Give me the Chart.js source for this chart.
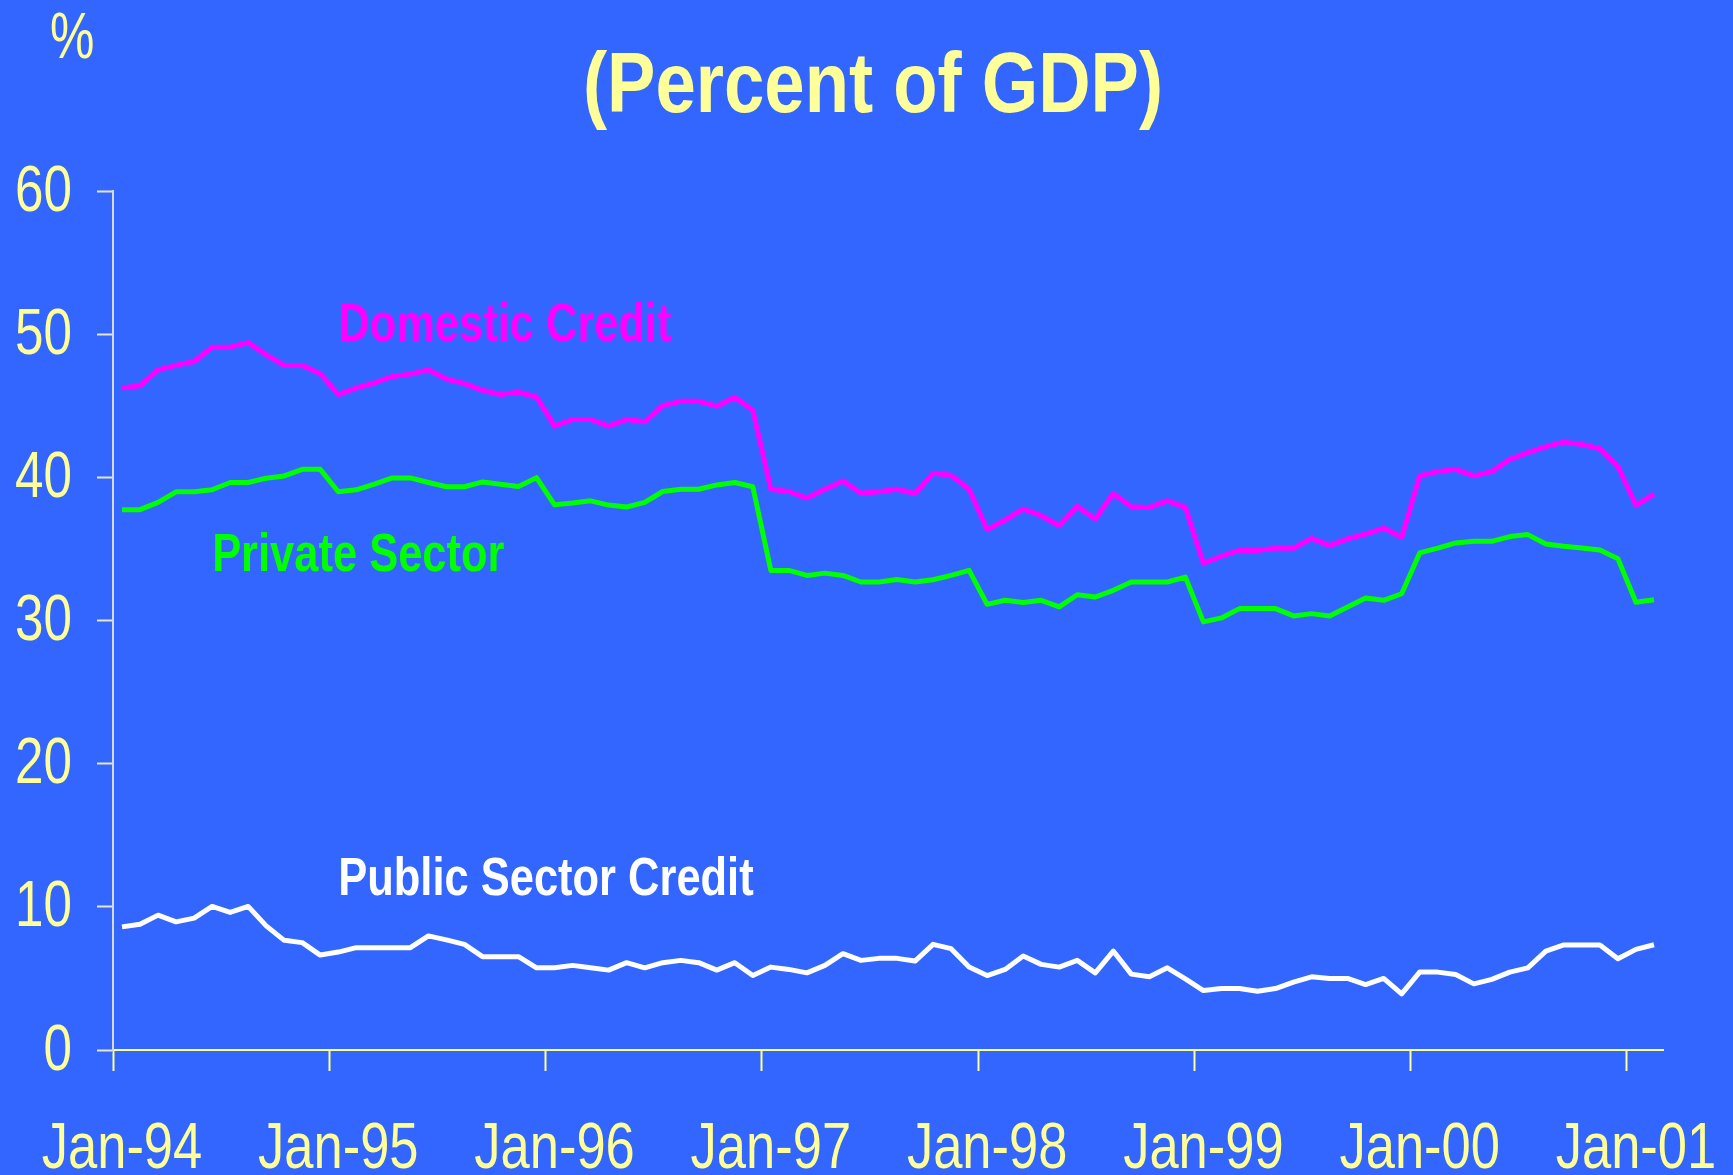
<!DOCTYPE html>
<html>
<head>
<meta charset="utf-8">
<title>Credit (Percent of GDP)</title>
<script src="https://cdn.jsdelivr.net/npm/chart.js@4.4.1/dist/chart.umd.min.js"></script>
<style>
  html, body { margin: 0; padding: 0; background: #3366FF; }
  canvas { display: block; }
</style>
</head>
<body>
<canvas id="chart" width="1733" height="1175"></canvas>
<script>
// monthly observations, Jan-94 .. Feb-01
const years = ['94', '95', '96', '97', '98', '99', '00', '01'];
const monthNames = ['Jan', 'Feb', 'Mar', 'Apr', 'May', 'Jun', 'Jul', 'Aug', 'Sep', 'Oct', 'Nov', 'Dec'];
const months = [];
years.forEach(y => monthNames.forEach(m => months.push(m + '-' + y)));
months.length = 86;

const domesticCredit = [
  46.24, 46.40, 47.51, 47.82, 48.09, 49.09, 49.09, 49.41, 48.56, 47.82, 47.82, 47.24,
  45.78, 46.24, 46.59, 47.05, 47.21, 47.51, 46.87, 46.54, 46.08, 45.78, 45.94, 45.61,
  43.58, 44.04, 44.04, 43.58, 44.04, 43.88, 45.01, 45.31, 45.31, 44.97, 45.59, 44.69,
  39.17, 39.01, 38.55, 39.17, 39.75, 38.89, 38.99, 39.17, 38.87, 40.28, 40.15, 39.17,
  36.35, 37.02, 37.78, 37.32, 36.62, 37.97, 37.09, 38.87, 37.95, 37.90, 38.36, 37.90,
  34.00, 34.49, 34.89, 34.89, 35.05, 35.05, 35.74, 35.23, 35.70, 36.04, 36.46, 35.81,
  40.10, 40.40, 40.56, 40.10, 40.40, 41.26, 41.72, 42.14, 42.46, 42.30, 42.00, 40.75,
  38.05, 38.83
];

const privateSector = [
  37.74, 37.74, 38.25, 38.99, 38.99, 39.13, 39.64, 39.64, 39.94, 40.10, 40.56, 40.56,
  38.99, 39.13, 39.52, 39.96, 39.96, 39.64, 39.34, 39.34, 39.68, 39.52, 39.36, 39.98,
  38.08, 38.20, 38.36, 38.06, 37.93, 38.25, 39.01, 39.17, 39.17, 39.47, 39.64, 39.34,
  33.50, 33.50, 33.15, 33.31, 33.15, 32.69, 32.69, 32.87, 32.69, 32.85, 33.15, 33.50,
  31.13, 31.41, 31.25, 31.41, 30.95, 31.80, 31.64, 32.11, 32.69, 32.69, 32.69, 33.03,
  29.90, 30.18, 30.83, 30.83, 30.83, 30.32, 30.48, 30.32, 30.95, 31.57, 31.41, 31.87,
  34.72, 35.05, 35.42, 35.53, 35.53, 35.86, 36.00, 35.35, 35.19, 35.07, 34.93, 34.31,
  31.28, 31.45
];

const publicSector = [
  8.60, 8.79, 9.42, 8.95, 9.21, 10.03, 9.61, 10.03, 8.67, 7.66, 7.50, 6.63,
  6.84, 7.15, 7.15, 7.15, 7.15, 7.97, 7.69, 7.38, 6.52, 6.52, 6.52, 5.74,
  5.74, 5.91, 5.74, 5.58, 6.10, 5.74, 6.10, 6.26, 6.10, 5.58, 6.10, 5.20,
  5.79, 5.63, 5.39, 5.91, 6.73, 6.26, 6.40, 6.40, 6.21, 7.38, 7.08, 5.79,
  5.20, 5.63, 6.56, 5.98, 5.79, 6.26, 5.39, 6.91, 5.30, 5.11, 5.74, 4.97,
  4.15, 4.29, 4.29, 4.10, 4.29, 4.74, 5.11, 5.00, 5.00, 4.57, 5.00, 3.92,
  5.44, 5.44, 5.27, 4.62, 4.93, 5.44, 5.74, 6.91, 7.34, 7.34, 7.34, 6.38,
  7.03, 7.35
];

const yTicks = [0, 10, 20, 30, 40, 50, 60];

const BG = '#3366FF';
const YELLOW = '#FFFF99';
const FONT = "'Liberation Sans', Arial, sans-serif";
const NARROW = 0.82; // horizontal squeeze, gives the narrow Arial look

// series names written next to the lines, anchored in data space
const seriesLabels = [
  { text: 'Domestic Credit', color: '#FF00FF', at: 12, value: 49.5 },
  { text: 'Private Sector', color: '#00FF00', at: 5, value: 33.45 },
  { text: 'Public Sector Credit', color: '#FFFFFF', at: 12, value: 10.8 }
];

// fillText squeezed horizontally around the anchor point
function narrowText(ctx, text, x, y, sx) {
  ctx.save();
  ctx.translate(x, y);
  ctx.scale(sx, 1);
  ctx.fillText(text, 0, 0);
  ctx.restore();
}

const background = {
  id: 'background',
  beforeDraw(chart) {
    const ctx = chart.ctx;
    ctx.save();
    ctx.fillStyle = BG;
    ctx.fillRect(0, 0, chart.width, chart.height);
    ctx.restore();
  }
};

// tick labels, taken from the scales' own ticks and pixel positions
const tickLabels = {
  id: 'tickLabels',
  afterDraw(chart) {
    const ctx = chart.ctx;
    const x = chart.scales.x, y = chart.scales.y;
    ctx.save();
    ctx.fillStyle = YELLOW;
    ctx.font = '64px ' + FONT;

    ctx.textAlign = 'right';
    ctx.textBaseline = 'middle';
    y.ticks.forEach((t, i) => {
      narrowText(ctx, String(t.value), 72, y.getPixelForTick(i) + 2, 0.80);
    });

    ctx.textAlign = 'center';
    ctx.textBaseline = 'alphabetic';
    x.ticks.forEach((t, i) => {
      if (i % 12 === 0) narrowText(ctx, months[i], x.getPixelForTick(i), 1168, NARROW);
    });
    ctx.restore();
  }
};

const annotations = {
  id: 'annotations',
  afterDraw(chart) {
    const ctx = chart.ctx;
    const x = chart.scales.x, y = chart.scales.y;
    ctx.save();
    ctx.textBaseline = 'alphabetic';

    ctx.fillStyle = YELLOW;
    ctx.textAlign = 'center';
    ctx.font = 'bold 86px ' + FONT;
    narrowText(ctx, '(Percent of GDP)', 873, 112, 0.843);

    ctx.textAlign = 'left';
    ctx.font = '64px ' + FONT;
    narrowText(ctx, '%', 50, 58, 0.78);

    ctx.font = 'bold 53px ' + FONT;
    seriesLabels.forEach(l => {
      ctx.fillStyle = l.color;
      narrowText(ctx, l.text, x.getPixelForValue(l.at), y.getPixelForValue(l.value), NARROW);
    });
    ctx.restore();
  }
};

const lineStyle = {
  borderWidth: 5,
  pointRadius: 0,
  tension: 0,
  borderJoinStyle: 'round',
  fill: false
};

new Chart(document.getElementById('chart'), {
  type: 'line',
  data: {
    labels: months,
    datasets: [
      { label: 'Domestic Credit', data: domesticCredit, borderColor: '#FF00FF', ...lineStyle },
      { label: 'Private Sector', data: privateSector, borderColor: '#00FF00', ...lineStyle },
      { label: 'Public Sector Credit', data: publicSector, borderColor: '#FFFFFF', ...lineStyle }
    ]
  },
  options: {
    responsive: false,
    animation: false,
    layout: { padding: { top: 191, right: 70, left: 0, bottom: 0 } },
    plugins: {
      legend: { display: false },
      title: { display: false },
      tooltip: { enabled: false }
    },
    scales: {
      x: {
        offset: true,
        grid: {
          offset: true,
          drawOnChartArea: false,
          drawTicks: true,
          tickLength: 21,
          tickWidth: 2,
          color: c => (c.index % 12 === 0 ? YELLOW : 'rgba(0,0,0,0)'),
          tickColor: c => (c.index % 12 === 0 ? YELLOW : 'rgba(0,0,0,0)')
        },
        border: { display: true, color: YELLOW, width: 2 },
        ticks: { display: false, autoSkip: false, maxRotation: 0 },
        afterFit: s => { s.height = 125; }
      },
      y: {
        min: 0,
        max: 60,
        afterBuildTicks: s => { s.ticks = yTicks.map(v => ({ value: v })); },
        grid: {
          drawOnChartArea: false,
          drawTicks: true,
          tickLength: 16,
          color: '#E6E6C8',
          tickWidth: 2
        },
        border: { display: true, color: '#D6D8DC', width: 2 },
        ticks: { display: false },
        afterFit: s => { s.width = 113; }
      }
    }
  },
  plugins: [background, tickLabels, annotations]
});
</script>
</body>
</html>
